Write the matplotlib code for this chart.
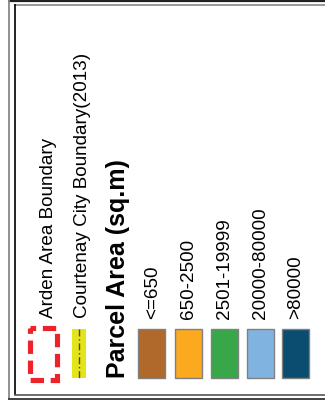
import matplotlib.pyplot as plt
from matplotlib.patches import Rectangle

plt.rcParams['font.family'] = ['Liberation Sans', 'DejaVu Sans']

# legend content
boundary_labels = ["Arden Area Boundary", "Courtenay City Boundary(2013)"]
title = "Parcel Area (sq.m)"
class_labels = ["<=650", "650-2500", "2501-19999", "20000-80000", ">80000"]
class_colors = ["#b0692b", "#fba91f", "#38a74a", "#80b3e0", "#0b4d71"]

fig = plt.figure(figsize=(3.25, 4.03), dpi=100)
ax = fig.add_axes([0, 0, 1, 1])
ax.set_xlim(0, 325)
ax.set_ylim(403, 0)
ax.axis('off')

# frame (double border)
ax.plot([8, 325], [0.8, 0.8], color="#222222", lw=1.6, solid_capstyle='butt')
ax.plot([14, 325], [4.5, 4.5], color="#888888", lw=1.2, solid_capstyle='butt')
ax.plot([8.5, 8.5], [0, 399], color="#888888", lw=1.3, solid_capstyle='butt')
ax.plot([14.5, 14.5], [4, 394.5], color="#111111", lw=1.3, solid_capstyle='butt')
ax.plot([14, 325], [394.5, 394.5], color="#555555", lw=1.2, solid_capstyle='butt')
ax.plot([8, 325], [398.5, 398.5], color="#333333", lw=1.3, solid_capstyle='butt')

# Arden boundary symbol: red dashed box
ax.add_patch(Rectangle((29.5, 327.5), 27, 52, fill=False, edgecolor="#ee2229",
                       lw=3.7, linestyle=(1.5, (2.6, 1.3)), joinstyle='miter',
                       capstyle='butt'))
# Courtenay boundary symbol: yellow band with dash-dot line
ax.add_patch(Rectangle((72, 329), 14, 49, facecolor="#e4e41a", edgecolor="none"))
ax.plot([78.5, 78.5], [329, 378], color="#4a4a20", lw=1.0, linestyle=(0, (5, 2, 1, 2)))

# texts, rotated so they read bottom to top
text_fs = 13.6
ax.text(53, 318, boundary_labels[0], rotation=90, rotation_mode='anchor',
        ha='left', va='baseline', fontsize=text_fs)
ax.text(87, 318, boundary_labels[1], rotation=90, rotation_mode='anchor',
        ha='left', va='baseline', fontsize=text_fs)
ax.text(125, 378, title, rotation=90, rotation_mode='anchor',
        ha='left', va='baseline', fontsize=18, fontweight='bold')

swatch_x = [138, 175, 211, 247, 282]
label_base = [157, 193, 228.5, 265, 300]
for i, (lab, col) in enumerate(zip(class_labels, class_colors)):
    ax.add_patch(Rectangle((swatch_x[i], 329), 27, 49, facecolor=col,
                           edgecolor="#808080", lw=1.0))
    ax.text(label_base[i], 319, lab, rotation=90, rotation_mode='anchor',
            ha='left', va='baseline', fontsize=text_fs)

fig.savefig("out.png", dpi=100)
